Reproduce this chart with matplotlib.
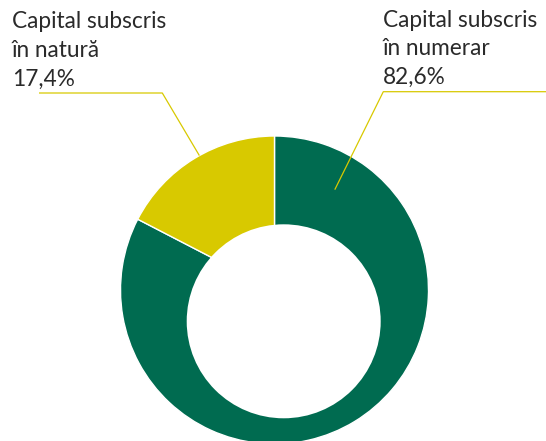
import matplotlib.pyplot as plt
from matplotlib.patches import Circle
import numpy as np

# data
categories = ["Capital subscris în numerar", "Capital subscris în natură"]
shares = [82.6, 17.4]
label_lines = [
    ["Capital subscris", "în numerar", "82,6%"],
    ["Capital subscris", "în natură", "17,4%"],
]

GREEN = "#006b50"
YELLOW = "#d8c900"
TEXT = "#2a2a2a"

plt.rcParams["font.family"] = ["Lato", "DejaVu Sans"]

fig = plt.figure(figsize=(5.46, 4.41), dpi=100)
ax = fig.add_axes([0, 0, 1, 1])

# pixel-like layout
cx, cy, R = 274.5, 290.0, 154.0
hole_dx, hole_dy, hole_r = 9.2, 31.3, 97.0

# inverted y axis: counterclock in data space reads clockwise on screen
wedges, _ = ax.pie(
    shares,
    colors=[GREEN, YELLOW],
    startangle=-90,
    counterclock=True,
    center=(cx, cy),
    radius=R,
    wedgeprops=dict(edgecolor="white", linewidth=1.0),
)
ax.add_patch(Circle((cx + hole_dx, cy + hole_dy), hole_r, facecolor="white",
                    edgecolor="none", zorder=5))

ax.set_xlim(0, 546)
ax.set_ylim(441, 0)
ax.set_aspect("equal")
ax.axis("off")

# label layout: (text x, first baseline, elbow, line end x, anchor angle deg, anchor r)
layouts = [
    dict(tx=383, ty=26.7, elbow=(383.3, 91.7), end_x=546, ang=-90 + 31.0, r=0.76),
    dict(tx=12, ty=28.3, elbow=(162.3, 93.0), end_x=39, ang=-90 - 29.2, r=1.0),
]

for lines, lay in zip(label_lines, layouts):
    for i, s in enumerate(lines):
        ax.text(lay["tx"], lay["ty"] + i * 28.6, s, fontsize=16.3, color=TEXT,
                ha="left", va="baseline")
    a = np.radians(lay["ang"])
    px = cx + lay["r"] * R * np.cos(a)
    py = cy + lay["r"] * R * np.sin(a)
    ex, ey = lay["elbow"]
    ax.plot([lay["end_x"], ex, px], [ey, ey, py], color=YELLOW, lw=0.9,
            solid_capstyle="butt", zorder=6)

fig.savefig("out.png", dpi=100)
